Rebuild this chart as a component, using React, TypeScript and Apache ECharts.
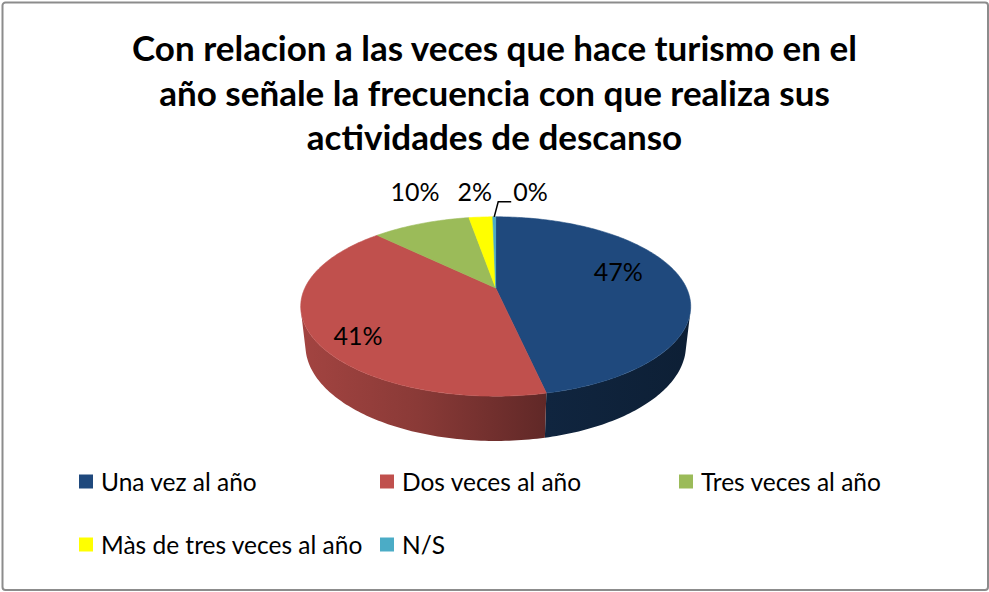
import React, { useEffect, useRef } from "react";
import * as echarts from "echarts";

const titleLines = [
  "Con relacion a las veces que hace turismo en el",
  "año señale la frecuencia con que realiza sus",
  "actividades de descanso",
];
const categories = [
  "Una vez al año",
  "Dos veces al año",
  "Tres veces al año",
  "Màs de tres veces al año",
  "N/S",
];
const values = [46.6, 40.8, 9.9, 2.4, 0.3];
const colors = ["#1F497D", "#C0504D", "#9BBB59", "#FFFF00", "#4BACC6"];
const labelModes = ["inside", "inside", "outside", "outside", "leader"];
const labelShift = [
  [-12, -11],
  [-8, 15],
  [0, 0],
  [0, 0],
  [0, 0],
];
const legendPos = [
  [79, 469],
  [380, 469],
  [679, 469],
  [79, 532],
  [380, 532],
];

// 3D view parameters (layout only)
const CX = 495.7;
const CY = 288;
const S = 190.8;
const SIN_A = 0.45;
const COS_A = Math.sqrt(1 - SIN_A * SIN_A);
const DIST = 4.33;
const H = 0.23;
const THETA_S = (Math.acos(-1 / (DIST * COS_A)) * 180) / Math.PI;
const FONT = "Lato";

function project(x: number, y: number, z: number): number[] {
  const d = z * COS_A + y * SIN_A;
  const k = DIST / (DIST - d);
  return [CX + S * x * k, CY + S * (z * SIN_A - y * COS_A) * k];
}

function rimPoint(deg: number, r: number, y: number): number[] {
  const t = (deg * Math.PI) / 180;
  return project(r * Math.sin(t), y, -r * Math.cos(t));
}

function arcPoints(a: number, b: number, y: number): number[][] {
  const pts: number[][] = [];
  const n = Math.max(2, Math.ceil(b - a));
  for (let k = 0; k <= n; k++) {
    pts.push(rimPoint(a + ((b - a) * k) / n, 1, y));
  }
  return pts;
}

function shade(hex: string, f: number): string {
  const r = parseInt(hex.slice(1, 3), 16);
  const g = parseInt(hex.slice(3, 5), 16);
  const b = parseInt(hex.slice(5, 7), 16);
  return `rgb(${Math.round(r * f)},${Math.round(g * f)},${Math.round(b * f)})`;
}

const total = values.reduce((s, v) => s + v, 0);

function renderItem(params: any, api: any) {
  const i = params.seriesIndex;
  const v = api.value(0);
  let before = 0;
  for (let k = 0; k < i; k++) before += values[k];
  const a = (before / total) * 360;
  const b = ((before + v) / total) * 360;
  const color = colors[i];
  const children: any[] = [];

  // outer wall (visible part only)
  const va = Math.max(a, THETA_S);
  const vb = Math.min(b, 360 - THETA_S);
  if (vb > va) {
    const pts = [...arcPoints(va, vb, 0), ...arcPoints(va, vb, -H).reverse()];
    children.push({
      type: "polygon",
      z2: 1,
      shape: { points: pts },
      style: {
        fill: {
          type: "linear",
          x: 300,
          y: 0,
          x2: 692,
          y2: 0,
          global: true,
          colorStops: [
            { offset: 0, color: shade(color, 0.85) },
            { offset: 0.3, color: shade(color, 0.72) },
            { offset: 0.63, color: shade(color, 0.5) },
            { offset: 1, color: shade(color, 0.42) },
          ],
        },
        stroke: null,
      },
    });
  }

  // top face
  children.push({
    type: "polygon",
    z2: 2,
    shape: { points: [project(0, 0, 0), ...arcPoints(a, b, 0)] },
    style: { fill: color, stroke: color, lineWidth: 0.6 },
  });

  // label
  const pct = Math.round((v / total) * 100) + "%";
  const mid = (a + b) / 2;
  const mode = labelModes[i];
  const sh = labelShift[i];
  const topY = rimPoint(0, 1, 0)[1];
  const textStyle = {
    text: pct,
    fill: "#000",
    fontSize: 25,
    fontFamily: FONT,
    verticalAlign: "middle",
  };
  if (mode === "inside") {
    const p = rimPoint(mid, 0.72, 0);
    children.push({
      type: "text",
      z2: 5,
      x: p[0] + sh[0],
      y: p[1] + sh[1],
      style: { ...textStyle, align: "center" },
    });
  } else if (mode === "outside") {
    const p = rimPoint(mid, 1, 0);
    children.push({
      type: "text",
      z2: 5,
      x: p[0] - 6,
      y: topY - 26,
      style: { ...textStyle, align: "center" },
    });
  } else {
    const p = rimPoint(mid, 1, 0);
    children.push({
      type: "polyline",
      z2: 5,
      shape: {
        points: [
          [p[0], p[1]],
          [p[0] + 4, p[1] - 15],
          [p[0] + 17, p[1] - 15],
        ],
      },
      style: { stroke: "#000", lineWidth: 1.5, fill: null },
    });
    children.push({
      type: "text",
      z2: 5,
      x: p[0] + 19,
      y: topY - 26,
      style: { ...textStyle, align: "left" },
    });
  }
  return { type: "group", children };
}

export default function App() {
  const ref = useRef<HTMLDivElement>(null);
  useEffect(() => {
    if (!ref.current) return;
    const chart = echarts.init(ref.current, undefined, { renderer: "svg" });
    const option: any = {
      animation: false,
      backgroundColor: "#ffffff",
      color: colors,
      title: titleLines.map((line, i) => ({
        text: line,
        left: "center",
        top: 25 + i * 44.5,
        padding: 0,
        textStyle: {
          fontFamily: FONT,
          fontWeight: "bold",
          fontSize: 35,
          lineHeight: 44.5,
          color: "#000",
        },
      })),
      legend: categories.map((name, i) => ({
        data: [name],
        left: legendPos[i][0],
        top: legendPos[i][1],
        padding: 0,
        icon: "rect",
        itemWidth: 14,
        itemHeight: 14,
        selectedMode: false,
        textStyle: {
          fontFamily: FONT,
          fontSize: 24.5,
          lineHeight: 24,
          color: "#000",
          padding: [0, 0, 0, 3],
        },
      })),
      graphic: [
        {
          type: "rect",
          shape: { x: 2.5, y: 2.5, width: 985.5, height: 587.5, r: 3 },
          style: { fill: null, stroke: "#8c8c8c", lineWidth: 2 },
          silent: true,
        },
      ],
      series: categories.map((name, i) => ({
        type: "custom",
        name,
        coordinateSystem: "none",
        itemStyle: { color: colors[i] },
        data: [[values[i]]],
        renderItem,
      })),
    };
    chart.setOption(option);
    return () => chart.dispose();
  }, []);
  return (
    <div
      ref={ref}
      style={{ position: "absolute", left: 0, top: 0, width: 989, height: 592 }}
    />
  );
}
